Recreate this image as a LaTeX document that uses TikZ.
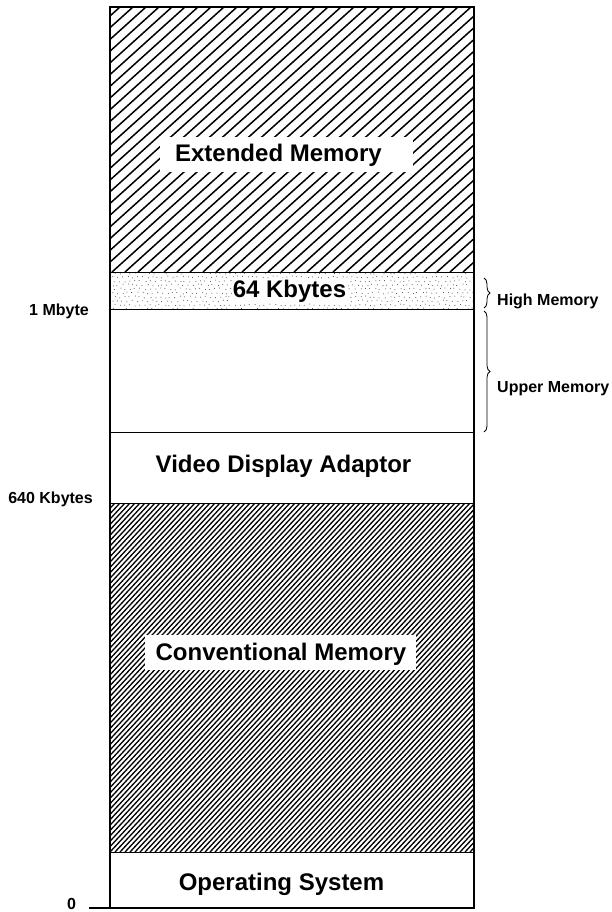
\documentclass[tikz,border=0pt]{standalone}
\usepackage{fontspec}
\setmainfont{Liberation Sans}
\usetikzlibrary{decorations.pathreplacing}
\begin{document}
\begin{tikzpicture}[x=1pt,y=-1pt,
  bigtxt/.style={font=\bfseries\fontsize{24}{28}\selectfont, inner sep=0pt},
  smalltxt/.style={font=\bfseries\fontsize{16}{19}\selectfont, inner sep=0pt},
  border/.style={line width=1.4pt},
  sepline/.style={line width=1pt},
  brc/.style={decorate, decoration={brace, amplitude=6pt}, line width=0.8pt}]
\useasboundingbox (0,0) rectangle (612,912);

% extended memory hatch
\begin{scope}
\clip (110,7) rectangle (474,272);
\foreach \s in {-200,-187,...,480} \draw[line width=1.5pt] (\s,272) -- ++(294,-265);
\end{scope}

% conventional memory hatch
\begin{scope}
\clip (110,503) rectangle (474,852);
\foreach \s in {-340,-335,...,480} \draw[line width=1.3pt] (\s,852) -- ++(325,-349);
\end{scope}

% dotted band
\begin{scope}
\clip (110,272) rectangle (474,309);
\pgfmathsetseed{7}
\foreach \i in {0,...,73} \foreach \j in {0,...,9} {
  \pgfmathsetmacro\dx{\i*5+mod(\j,2)*2.5+rand*1.2}
  \pgfmathsetmacro\dy{\j*4+rand*1}
  \fill[black!75] (110+\dx, 273+\dy) circle (0.5pt);
}
\end{scope}

% separators
\draw[sepline] (110,272) -- (474,272);
\draw[sepline] (110,309) -- (474,309);
\draw[sepline] (110,432) -- (474,432);
\draw[sepline] (110,503) -- (474,503);
\draw[sepline] (110,852) -- (474,852);

% outline
\draw[border] (110,908) -- (110,7) -- (474,7) -- (474,908);
\draw[border] (89,908) -- (475,908);

% texts in blocks
\fill[white] (160,137) rectangle (413,172);
\node[bigtxt, anchor=base] (ext) at (278.5,162) {Extended Memory};
\node[bigtxt, anchor=base, fill=white, inner sep=1pt] (kb) at (289.5,297) {64 Kbytes};
\node[bigtxt, anchor=base] (vid) at (283.5,472) {Video Display Adaptor};
\fill[white] (145,635) rectangle (416,670);
\node[bigtxt, anchor=base] (conv) at (281,660) {Conventional Memory};
\node[bigtxt, anchor=base] (os) at (281.5,890) {Operating System};

% left labels
\node[smalltxt, anchor=base east] (mb) at (89,315) {1 Mbyte};
\node[smalltxt, anchor=base east] (k640) at (93,503) {640 Kbytes};
\node[smalltxt, anchor=base] (zero) at (71.5,909) {0};

% braces and right labels
\coordinate (h1) at (484,278);
\coordinate (h2) at (484,308);
\coordinate (u1) at (484,311);
\coordinate (u2) at (484,432);
\draw[brc] (h1) -- (h2);
\draw[brc] (u1) -- (u2);
\node[smalltxt, anchor=base west] (high) at (497,305) {High Memory};
\node[smalltxt, anchor=base west] (upper) at (497,392) {Upper Memory};
\end{tikzpicture}
\end{document}
